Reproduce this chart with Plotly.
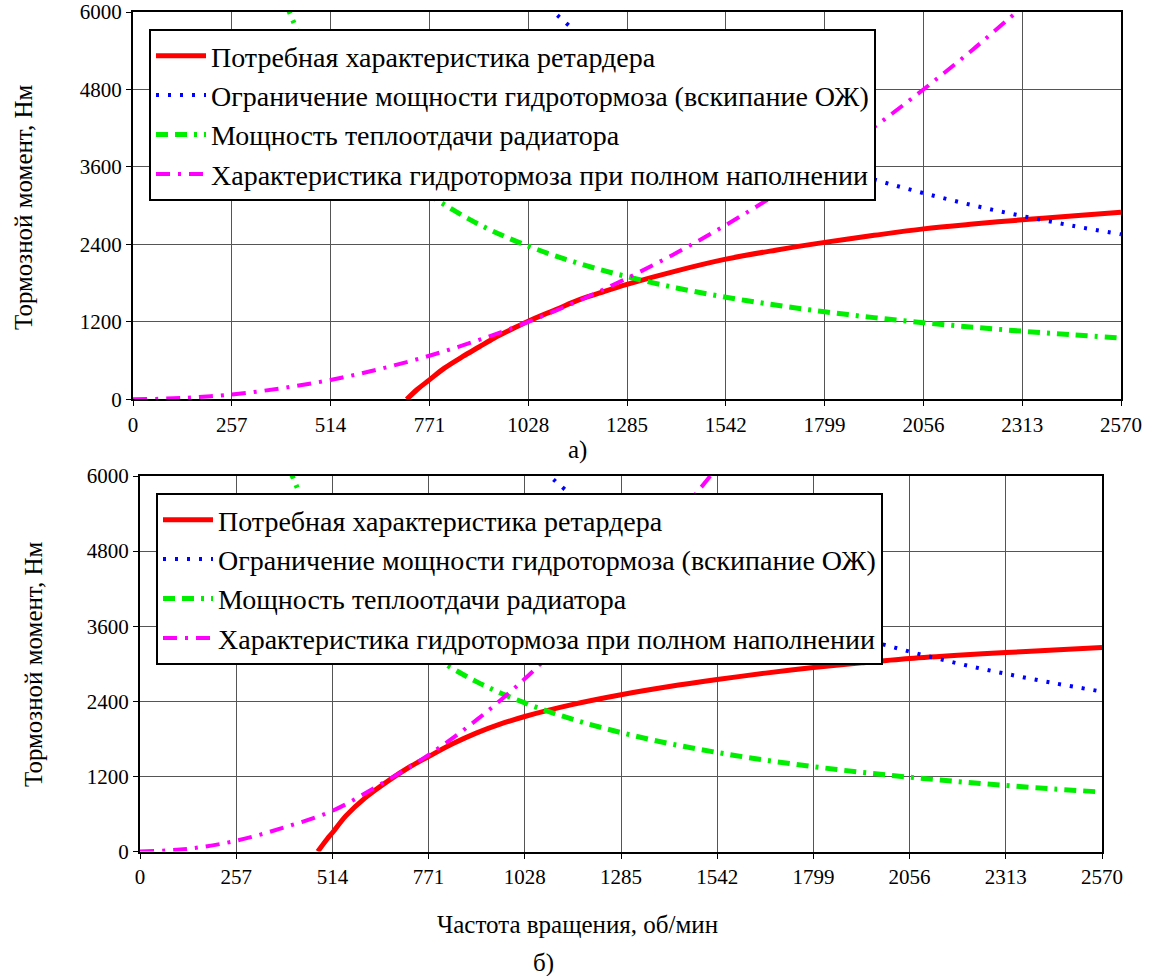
import plotly.graph_objects as go

# ---------------- data ----------------
x_ticks = [0, 257, 514, 771, 1028, 1285, 1542, 1799, 2056, 2313, 2570]
y_ticks = [0, 1200, 2400, 3600, 4800, 6000]

names = [
    "Потребная характеристика ретардера",
    "Ограничение мощности гидротормоза (вскипание ОЖ)",
    "Мощность теплоотдачи радиатора",
    "Характеристика гидротормоза при полном наполнении",
]

# (a) top chart
red_a_x = [712, 740, 771, 810, 858, 900, 940, 985, 1028, 1100, 1163, 1225, 1285, 1414, 1542, 1671, 1799, 1928, 2056, 2185, 2313, 2442, 2570]
red_a_y = [0, 156, 301, 483, 664, 810, 950, 1085, 1209, 1390, 1547, 1670, 1781, 1990, 2171, 2310, 2431, 2540, 2640, 2715, 2780, 2840, 2899]

mag_a_x = [0, 128, 257, 385, 514, 642, 771, 900, 1028, 1157, 1285, 1414, 1542, 1671, 1799, 1928, 2056, 2185, 2300]
mag_a_y = [0, 20, 75, 170, 300, 470, 675, 920, 1200, 1520, 1875, 2270, 2700, 3170, 3680, 4220, 4800, 5420, 6010]

# (б) bottom chart
red_b_x = [475, 500, 514, 550, 600, 667, 720, 771, 835, 898, 960, 1028, 1157, 1285, 1414, 1542, 1671, 1799, 1928, 2056, 2185, 2313, 2442, 2570]
red_b_y = [0, 200, 300, 570, 850, 1144, 1350, 1517, 1720, 1891, 2030, 2157, 2350, 2504, 2635, 2747, 2850, 2939, 3015, 3083, 3135, 3179, 3220, 3259]

mag_b_x = [0, 128, 257, 385, 514, 642, 771, 900, 1028, 1128, 1285, 1414, 1525]
mag_b_y = [0, 43, 172, 385, 650, 1072, 1545, 2106, 2760, 3341, 4293, 5198, 6010]

# common to both charts
blue_x = [1080, 1150, 1285, 1414, 1542, 1671, 1799, 1928, 2056, 2185, 2313, 2442, 2570]
blue_y = [6080, 5710, 5110, 4645, 4260, 3930, 3650, 3405, 3195, 3005, 2840, 2690, 2555]

green_x = [380, 400, 450, 514, 600, 700, 771, 900, 1028, 1157, 1285, 1414, 1542, 1671, 1799, 1928, 2056, 2185, 2313, 2442, 2570]
green_y = [6420, 6100, 5420, 4750, 4070, 3490, 3165, 2710, 2374, 2110, 1900, 1725, 1582, 1460, 1356, 1265, 1187, 1117, 1055, 999, 950]

# ---------------- figure ----------------
W, H = 1154, 976
FONT = "Liberation Serif, Times New Roman, serif"

styles = [
    dict(color="#ff0000", width=5, dash="solid"),
    dict(color="#0000ff", width=4, dash="3px,9px"),
    dict(color="#00ee00", width=5, dash="12px,7px,12px,7px,3px,7px"),
    dict(color="#ff00ff", width=4, dash="14px,8px,3px,8px"),
]

fig = go.Figure()

def add_set(xs, ys, xa, ya, legend):
    for i, (xv, yv) in enumerate(zip(xs, ys)):
        fig.add_trace(go.Scatter(
            x=xv, y=yv, mode="lines", name=names[i],
            line=dict(shape="spline", smoothing=1.0, **styles[i]),
            xaxis=xa, yaxis=ya, legend=legend,
            showlegend=True, hoverinfo="skip",
        ))

add_set([red_a_x, blue_x, green_x, mag_a_x], [red_a_y, blue_y, green_y, mag_a_y], "x", "y", "legend")
add_set([red_b_x, blue_x, green_x, mag_b_x], [red_b_y, blue_y, green_y, mag_b_y], "x2", "y2", "legend2")

def xax(domain, anchor):
    return dict(domain=domain, anchor=anchor, range=[0, 2570], tickvals=x_ticks,
                ticktext=[str(v) for v in x_ticks], showgrid=True, gridcolor="#555555",
                gridwidth=1, showline=True, linecolor="black", linewidth=2, mirror=True,
                ticks="outside", ticklen=5, tickcolor="black", zeroline=False,
                tickfont=dict(family=FONT, size=21, color="black"), automargin=False)

def yax(domain, anchor):
    return dict(domain=domain, anchor=anchor, range=[0, 6000], tickvals=y_ticks,
                ticktext=[str(v) for v in y_ticks], showgrid=True, gridcolor="#555555",
                gridwidth=1, showline=True, linecolor="black", linewidth=2, mirror=True,
                ticks="outside", ticklen=5, tickcolor="black", zeroline=False,
                tickfont=dict(family=FONT, size=21, color="black"), automargin=False)

legend_common = dict(
    xanchor="left", yanchor="top", bgcolor="white", bordercolor="black", borderwidth=2,
    font=dict(family=FONT, size=28, color="black"), traceorder="normal",
    itemwidth=50,
)

fig.update_layout(
    width=W, height=H,
    margin=dict(l=0, r=0, t=0, b=0),
    paper_bgcolor="white", plot_bgcolor="white",
    showlegend=True,
    xaxis=xax([133 / W, 1121 / W], "y"),
    yaxis=yax([1 - 399.3 / H, 1 - 12 / H], "x"),
    xaxis2=xax([140 / W, 1102 / W], "y2"),
    yaxis2=yax([1 - 851.5 / H, 1 - 476 / H], "x2"),
    legend=dict(x=149 / W, y=1 - 29 / H, **legend_common),
    legend2=dict(x=156 / W, y=1 - 493 / H, **legend_common),
)

ann_font = dict(family=FONT, size=25, color="black")
annotations = [
    dict(text="Тормозной момент, Нм", x=23 / W, y=1 - 208 / H, textangle=-90),
    dict(text="Тормозной момент, Нм", x=33 / W, y=1 - 665 / H, textangle=-90),
    dict(text="а)", x=577 / W, y=1 - 450 / H),
    dict(text="Частота вращения, об/мин", x=577 / W, y=1 - 924 / H),
    dict(text="б)", x=543 / W, y=1 - 963 / H),
]
for a in annotations:
    fig.add_annotation(xref="paper", yref="paper", showarrow=False,
                       xanchor="center", yanchor="middle", font=ann_font, **a)

fig.write_html("out.html")
